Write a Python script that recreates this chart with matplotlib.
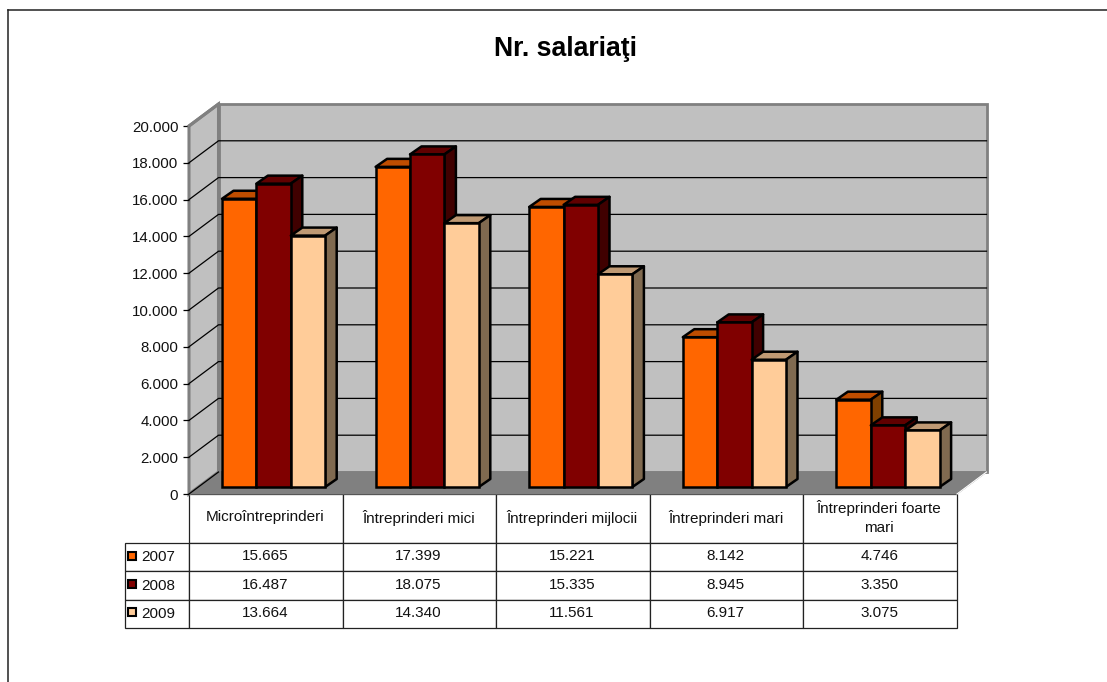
import matplotlib
matplotlib.use('Agg')
import matplotlib.pyplot as plt
from matplotlib.lines import Line2D
from matplotlib.patches import Polygon, Rectangle
from matplotlib.transforms import Affine2D

plt.rcParams['font.family'] = ['Liberation Sans', 'DejaVu Sans']

categories = ['Microîntreprinderi', 'Întreprinderi mici', 'Întreprinderi mijlocii',
              'Întreprinderi mari', 'Întreprinderi foarte\nmari']
years = ['2007', '2008', '2009']
v2007 = [15665, 17399, 15221, 8142, 4746]
v2008 = [16487, 18075, 15335, 8945, 3350]
v2009 = [13664, 14340, 11561, 6917, 3075]
y_ticks = list(range(0, 20001, 2000))

series = [v2007, v2008, v2009]
front_colors = ['#FF6600', '#800000', '#FFCC99']
top_colors = ['#BF4D00', '#600000', '#BF9973']
side_colors = ['#804000', '#400000', '#806A50']

W, H = 1107, 682


def dots(v):
    return f'{v:,}'.replace(',', '.')


fig = plt.figure(figsize=(W / 100, H / 100), dpi=100, facecolor='white')

# axes = front plane of the 3D box
left, right, top, bottom = 189, 957, 126, 494
ax = fig.add_axes([left / W, 1 - bottom / H, (right - left) / W, (bottom - top) / H])
ax.set_xlim(0, 5)
ax.set_ylim(0, 20000)
ax.patch.set_visible(False)
for s in ax.spines.values():
    s.set_visible(False)

# pixels -> data units
ux = 5 / (right - left)
uy = 20000 / (bottom - top)
wall_dx = 29.5 * ux
wall_dy = 22 * uy

# walls and floor
wall_edge = '#808080'
ax.add_patch(Polygon([(0, 0), (wall_dx, wall_dy), (wall_dx, 20000 + wall_dy), (0, 20000)],
                     fc='#C0C0C0', ec=wall_edge, lw=2.2, clip_on=False, zorder=1))
ax.add_patch(Polygon([(wall_dx, wall_dy), (5 + wall_dx, wall_dy), (5 + wall_dx, 20000 + wall_dy),
                      (wall_dx, 20000 + wall_dy)],
                     fc='#C0C0C0', ec=wall_edge, lw=2.0, clip_on=False, zorder=1))
ax.add_patch(Polygon([(0, 0), (5, 0), (5 + wall_dx, wall_dy), (wall_dx, wall_dy)],
                     fc='#808080', ec='#808080', lw=0.8, clip_on=False, zorder=2))
ax.plot([5, 5 + wall_dx], [0, wall_dy], color='white', lw=0.8, clip_on=False, zorder=2)

# gridlines on the walls
for t in y_ticks[1:-1]:
    ax.plot([0, wall_dx, 5 + wall_dx], [t, t + wall_dy, t + wall_dy], color='black',
            lw=0.9, clip_on=False, zorder=3)
ax.plot([0, wall_dx], [0, wall_dy], color='black', lw=0.9, clip_on=False, zorder=3)
ax.plot([0, wall_dx], [20000, 20000 + wall_dy], color=wall_edge, lw=2.2, clip_on=False, zorder=3)

# bars, left to right so the next one hides the side of the previous
bar_w = 34.4 * ux
first = 33 * ux
bar_base = 7 * uy
dx = 11.5 * ux
dy = 8 * uy
z = 4
for c in range(len(categories)):
    for i, vals in enumerate(series):
        x0 = c + first + bar_w * i
        x1 = x0 + bar_w
        y0 = bar_base
        y1 = bar_base + vals[c]
        ax.bar(x0, vals[c], width=bar_w, bottom=y0, align='edge', color=front_colors[i],
               edgecolor='black', linewidth=1.8, zorder=z + 2)
        ax.add_patch(Polygon([(x0, y1), (x1, y1), (x1 + dx, y1 + dy), (x0 + dx, y1 + dy)],
                             fc=top_colors[i], ec='black', lw=1.8, joinstyle='round', zorder=z))
        ax.add_patch(Polygon([(x1, y0), (x1 + dx, y0 + dy), (x1 + dx, y1 + dy), (x1, y1)],
                             fc=side_colors[i], ec='black', lw=1.8, joinstyle='round', zorder=z + 1))
        z += 3

# value axis
ax.set_xticks([])
ax.set_yticks(y_ticks)
ax.set_yticklabels([dots(t) for t in y_ticks], fontsize=10.8, color='#111111')
ax.tick_params(axis='y', length=4.3, width=0.9, pad=3.4, color='black')

# data table under the plot, first column holds the years
label_w = 64
row_h = 28.4
head_h = 49
total_h = head_h + row_h * 3
col_w = (right - left) / 5
table_text = [[''] + categories]
for year, vals in zip(years, series):
    table_text.append([year] + [dots(v) for v in vals])
tbl = ax.table(cellText=table_text, cellLoc='center', colWidths=[label_w] + [col_w] * 5,
               bbox=[-label_w / (right - left), -total_h / (bottom - top),
                     (right - left + label_w) / (right - left), total_h / (bottom - top)])
tbl.auto_set_font_size(False)
for (r, col), cell in tbl.get_celld().items():
    cell.set_linewidth(0.9)
    cell.set_edgecolor('#222222')
    cell.set_text_props(fontsize=11, color='#111111', linespacing=1.5)
    cell.set_height(head_h if r == 0 else row_h)
    if col == 0:
        cell.PAD = 0.25
        cell.set_text_props(ha='left')
    else:
        cell.get_text().set_transform(Affine2D().translate(-1, 1))
    if r == 0 and col == 0:
        cell.set_visible(False)
    cell.set_zorder(200)

# legend keys in the year cells
for i, col in enumerate(front_colors):
    cy = 556 + i * 28
    fig.add_artist(Rectangle((128 / W, 1 - (cy + 4) / H), 8 / W, 8 / H, transform=fig.transFigure,
                             fc=col, ec='black', lw=1.5, zorder=10))

fig.text(565 / W, 1 - 49.5 / H, 'Nr. salariaţi', ha='center', va='center', fontsize=19.2,
         fontweight='bold', color='black')

# chart frame, runs off the image on the right and at the bottom
fig.add_artist(Line2D([8 / W, 1], [1 - 10 / H, 1 - 10 / H], color='#222222', lw=1.1))
fig.add_artist(Line2D([8 / W, 8 / W], [0, 1 - 10 / H], color='#222222', lw=1.1))

fig.savefig('out.png', dpi=100)
